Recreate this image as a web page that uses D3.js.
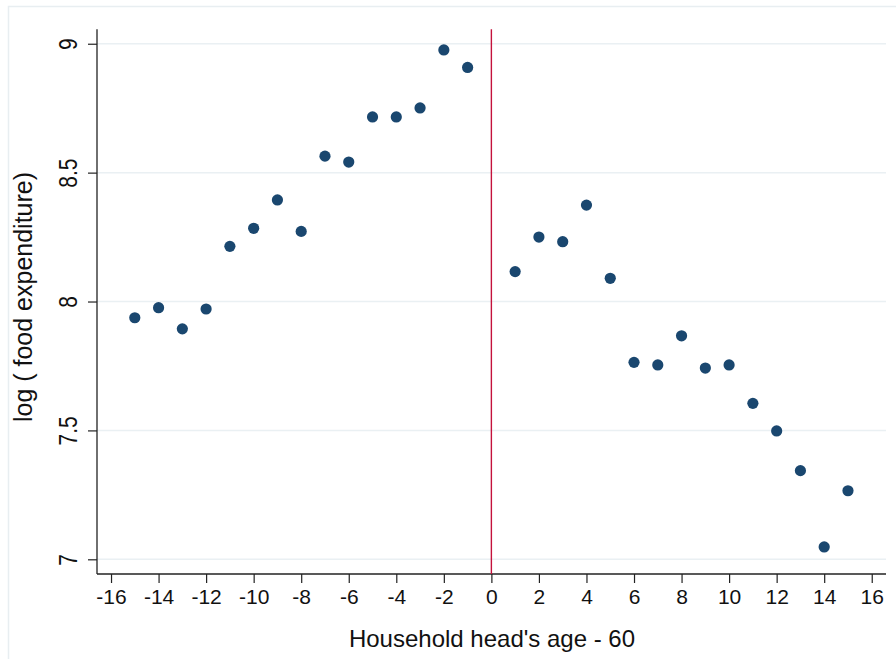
<!DOCTYPE html>
<html><head><meta charset="utf-8">
<script src="https://cdn.jsdelivr.net/npm/d3@7"></script>
<style>body{margin:0;background:#fff;} text{font-family:"Liberation Sans",Arial,Helvetica,sans-serif;fill:#111;}</style>
</head><body>
<svg id="c" width="896" height="659"></svg>
<script>
const ages = [-15,-14,-13,-12,-11,-10,-9,-8,-7,-6,-5,-4,-3,-2,-1,1,2,3,4,5,6,7,8,9,10,11,12,13,14,15];
const logFood = [7.937,7.976,7.894,7.971,8.214,8.284,8.394,8.272,8.564,8.541,8.716,8.716,8.751,8.976,8.908,
                 8.116,8.250,8.232,8.374,8.090,7.764,7.754,7.867,7.742,7.754,7.605,7.498,7.344,7.048,7.266];
const xTicks = [-16,-14,-12,-10,-8,-6,-4,-2,0,2,4,6,8,10,12,14,16];
const yTicks = [7,7.5,8,8.5,9];
const cutoff = 0;
const xTitle = "Household head's age - 60";
const yTitle = "log ( food expenditure)";

const svg = d3.select("#c");
const L = 97, R = 886, T = 29.3, B = 574;
const x = d3.scaleLinear().domain([-16.59, 16.6]).range([L, R]);
const y = d3.scaleLinear().domain([6.943, 9.056]).range([B, T]);

// outer frame
svg.append("rect").attr("x",8.5).attr("y",6.5).attr("width",900).attr("height",700)
  .attr("fill","none").attr("stroke","#e8eef1").attr("stroke-width",1.5);

// gridlines
svg.append("g").selectAll("line").data(yTicks).join("line")
  .attr("x1",L).attr("x2",R).attr("y1",d=>y(d)).attr("y2",d=>y(d))
  .attr("stroke","#eaf0f3").attr("stroke-width",1.5);

// y axis
const ya = svg.append("g").attr("transform",`translate(${L},0)`)
  .call(d3.axisLeft(y).tickValues(yTicks).tickSize(9).tickFormat(d3.format("")));
ya.select(".domain").attr("d",`M0,${T}V${B}`).attr("stroke","#222").attr("stroke-width",1.3);
ya.selectAll(".tick line").attr("stroke","#222").attr("stroke-width",1.2);
ya.selectAll(".tick text").attr("font-size",21).attr("transform","rotate(-90) scale(1,1.2)")
  .attr("x",0).attr("y",-20/1.2).attr("dy",0).attr("text-anchor","middle").attr("fill","#111");

// x axis
const xa = svg.append("g").attr("transform",`translate(0,${B})`)
  .call(d3.axisBottom(x).tickValues(xTicks).tickSize(9).tickFormat(d3.format("")));
xa.select(".domain").attr("d",`M${L},0H${R}`).attr("stroke","#222").attr("stroke-width",1.3);
xa.selectAll(".tick line").attr("stroke","#222").attr("stroke-width",1.2);
xa.selectAll(".tick text").attr("font-size",21).attr("fill","#111").attr("y",29.5).attr("dy",0)
  .text(d=>d<0?"-"+Math.abs(d):d);

// cutoff line
svg.append("line").attr("x1",x(cutoff)).attr("x2",x(cutoff)).attr("y1",T).attr("y2",B)
  .attr("stroke","#c4123c").attr("stroke-width",1.4);

// points
svg.append("g").selectAll("circle").data(ages).join("circle")
  .attr("cx",d=>x(d)).attr("cy",(d,i)=>y(logFood[i])).attr("r",5.6).attr("fill","#1a476f");

// titles
svg.append("text").attr("x",492).attr("y",647).attr("text-anchor","middle").attr("font-size",24).text(xTitle);
svg.append("text").attr("transform","translate(32,297) rotate(-90)").attr("text-anchor","middle").attr("font-size",25).text(yTitle);
</script>
</body></html>
